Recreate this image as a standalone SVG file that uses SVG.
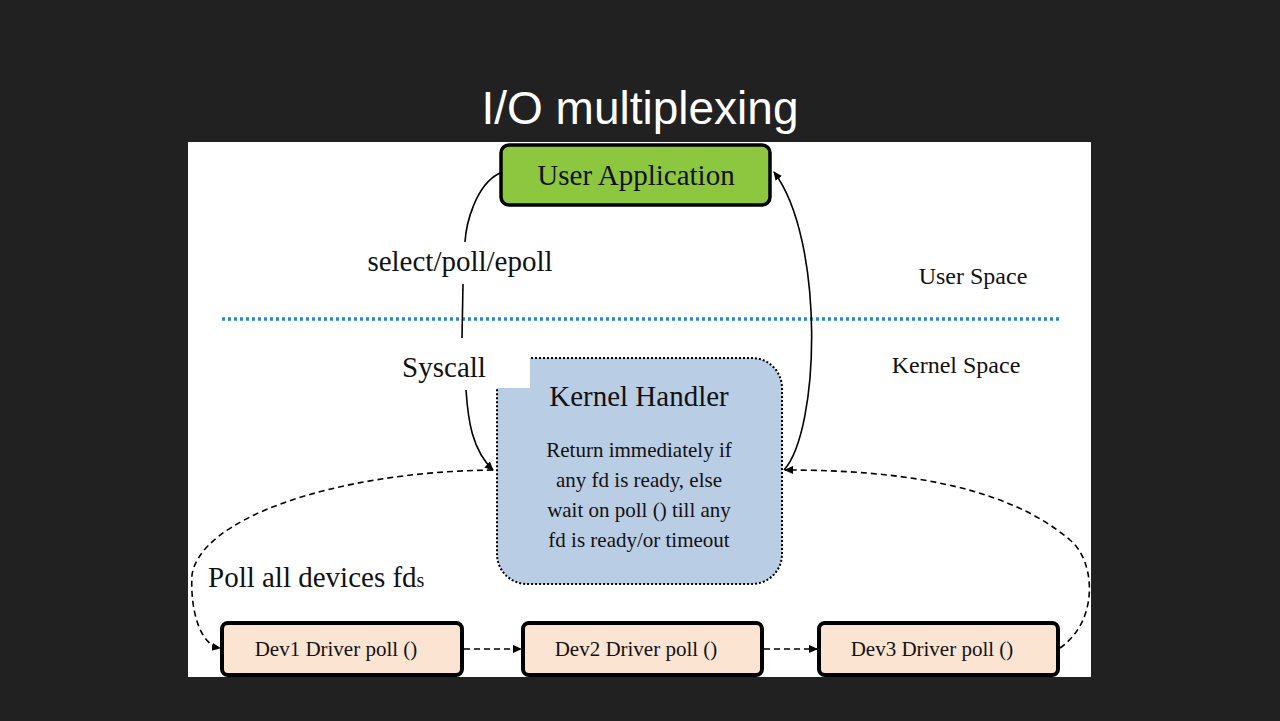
<svg xmlns="http://www.w3.org/2000/svg" width="1280" height="721" viewBox="0 0 1280 721">
<style>
.s{font-family:"Liberation Serif",serif;fill:#111}
.dev rect{fill:#fce4d2;stroke:#000;stroke-width:4}
.c{fill:none;stroke:#000;stroke-width:1.6}
.d{fill:none;stroke:#000;stroke-width:1.6;stroke-dasharray:6 4}
</style>
<defs><marker id="a" markerWidth="10" markerHeight="10" refX="8" refY="4" orient="auto" markerUnits="userSpaceOnUse"><path d="M0,0 L9,4 L0,8z" fill="#000"/></marker></defs>
<rect width="1280" height="721" fill="#212121"/>
<text x="640" y="124" text-anchor="middle" font-family="Liberation Sans,sans-serif" font-size="46" fill="#fff">I/O multiplexing</text>
<rect x="188" y="142" width="903" height="535" fill="#fff"/>
<line x1="222" y1="319" x2="1062" y2="319" stroke="#2a8ac4" stroke-width="3.5" stroke-dasharray="3 3"/>
<g id="kernel"><rect x="497" y="358" width="285" height="226" rx="30" fill="#b9cde5" stroke="#000" stroke-width="2" stroke-dasharray="2 2"/>
<rect x="470" y="352" width="60" height="36" fill="#fff"/>
<text class="s" x="639" y="406" text-anchor="middle" font-size="29">Kernel Handler</text>
<text class="s" font-size="21" text-anchor="middle"><tspan x="639" y="457">Return immediately if</tspan><tspan x="639" y="487">any fd is ready, else</tspan><tspan x="639" y="517">wait on poll () till any</tspan><tspan x="639" y="547">fd is ready/or timeout</tspan></text></g>
<g id="userapp"><rect x="501" y="145" width="269" height="60" rx="8" fill="#8dc63f" stroke="#000" stroke-width="3.5"/>
<text class="s" x="636" y="185" text-anchor="middle" font-size="29">User Application</text></g>
<g id="labels"><text class="s" x="460" y="271" text-anchor="middle" font-size="29">select/poll/epoll</text>
<text class="s" x="444" y="377" text-anchor="middle" font-size="29">Syscall</text>
<text class="s" x="973" y="284" text-anchor="middle" font-size="24">User Space</text>
<text class="s" x="956" y="373" text-anchor="middle" font-size="24">Kernel Space</text>
<text class="s" x="208" y="587" font-size="29">Poll all devices fd<tspan font-size="20">s</tspan></text></g>
<g id="dev1" class="dev"><rect x="222" y="623" width="240" height="52" rx="6"/><text class="s" x="336" y="656" text-anchor="middle" font-size="21">Dev1 Driver poll ()</text></g>
<g id="dev2" class="dev"><rect x="523" y="623" width="239" height="52" rx="6"/><text class="s" x="636" y="656" text-anchor="middle" font-size="21">Dev2 Driver poll ()</text></g>
<g id="dev3" class="dev"><rect x="819" y="623" width="239" height="52" rx="6"/><text class="s" x="932" y="656" text-anchor="middle" font-size="21">Dev3 Driver poll ()</text></g>
<g id="connectors">
<path class="c" d="M500,173 C475,185 466,225 465,242"/>
<path class="c" d="M463,284 L462,338"/>
<path class="c" d="M466,390 C468,420 472,450 493,470" marker-end="url(#a)"/>
<path class="c" d="M784,470 C820,430 825,240 774,172" marker-end="url(#a)"/>
<path class="d" d="M493,470 C330,472 200,520 192,575 C190,610 200,645 220,648" marker-end="url(#a)"/>
<path class="d" d="M1060,648 C1100,620 1095,560 1070,540 C1000,480 880,470 785,470" marker-end="url(#a)"/>
<path class="d" d="M464,649 L521,649" marker-end="url(#a)"/>
<path class="d" d="M764,649 L817,649" marker-end="url(#a)"/>
</g>
</svg>
